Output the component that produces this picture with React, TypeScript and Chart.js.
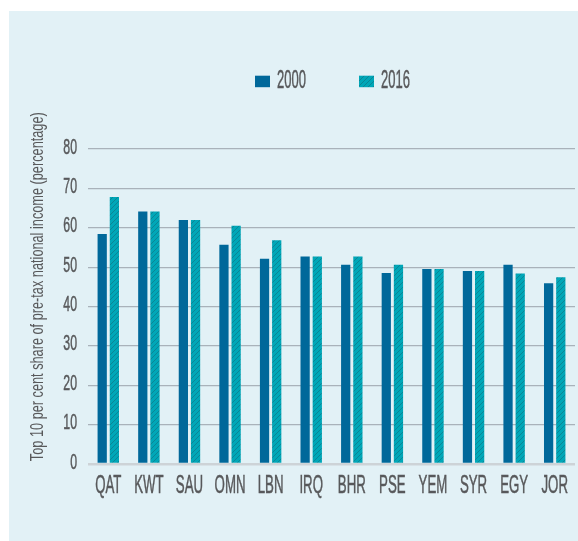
import React, { useEffect, useRef } from "react";
import { Chart, registerables } from "chart.js";

Chart.register(...registerables);

// ---- data ----
const categories = ["QAT", "KWT", "SAU", "OMN", "LBN", "IRQ", "BHR", "PSE", "YEM", "SYR", "EGY", "JOR"];
const seriesLabels = ["2000", "2016"];
const values2000 = [58.4, 64.1, 62.0, 55.7, 52.1, 52.7, 50.6, 48.5, 49.5, 49.0, 50.6, 45.9];
const values2016 = [67.8, 64.1, 62.0, 60.5, 56.8, 52.7, 52.7, 50.6, 49.5, 49.0, 48.4, 47.4];
const yMin = 0;
const yMax = 80;
const yStep = 10;
const yTitle = "Top 10 per cent share of pre-tax national income (percentage)";

// ---- styles ----
const COLOR_2000 = "#00689a";
const COLOR_2016 = "#00a7b8";
const HATCH_LINE = "#0b8595";
const TEXT_COLOR = "#58595b";
const FONT = "'Liberation Sans', Arial, sans-serif";

function makeHatch(ctx: CanvasRenderingContext2D) {
  const c = document.createElement("canvas");
  c.width = 5;
  c.height = 5;
  const g = c.getContext("2d")!;
  g.fillStyle = COLOR_2016;
  g.fillRect(0, 0, 5, 5);
  g.strokeStyle = HATCH_LINE;
  g.lineWidth = 1;
  g.beginPath();
  g.moveTo(0, 5);
  g.lineTo(5, 0);
  g.moveTo(-1, 1);
  g.lineTo(1, -1);
  g.moveTo(4, 6);
  g.lineTo(6, 4);
  g.stroke();
  return ctx.createPattern(c, "repeat")!;
}

function drawText(
  ctx: CanvasRenderingContext2D,
  text: string,
  x: number,
  y: number,
  size: number,
  sx: number,
  align: CanvasTextAlign,
  baseline: CanvasTextBaseline,
  stroke = 0.5
) {
  ctx.save();
  ctx.font = `${size}px ${FONT}`;
  ctx.textAlign = align;
  ctx.textBaseline = baseline;
  ctx.translate(x, y);
  ctx.scale(sx, 1);
  ctx.fillText(text, 0, 0);
  if (stroke > 0) {
    ctx.strokeStyle = ctx.fillStyle;
    ctx.lineWidth = stroke;
    ctx.strokeText(text, 0, 0);
  }
  ctx.restore();
}

const textPlugin = {
  id: "condensedText",
  afterDraw(chart: any) {
    const { ctx, chartArea, scales } = chart;
    const xs = scales.x;
    const ys = scales.y;
    ctx.save();
    ctx.fillStyle = TEXT_COLOR;
    // y tick labels
    ys.ticks.forEach((t: any) => {
      drawText(ctx, String(t.value), chartArea.left - 11, ys.getPixelForValue(t.value) - 1.5, 22, 0.56, "right", "middle");
    });
    // x tick labels
    categories.forEach((c, i) => {
      drawText(ctx, c, xs.getPixelForValue(i), chartArea.bottom + 29, 25, 0.53, "center", "alphabetic");
    });
    // y title
    ctx.save();
    ctx.translate(chartArea.left - 45, (chartArea.top + chartArea.bottom) / 2 - 19.8);
    ctx.rotate(-Math.PI / 2);
    drawText(ctx, yTitle, 0, 0, 19, 0.67, "center", "alphabetic", 0);
    ctx.restore();
    // legend
    const boxX = [246, 350];
    chart.data.datasets.forEach((ds: any, i: number) => {
      ctx.fillStyle = ds.backgroundColor;
      ctx.fillRect(boxX[i], 64.7, 15, 11.5);
      ctx.fillStyle = TEXT_COLOR;
      drawText(ctx, ds.label, boxX[i] + 22, 77.3, 26, 0.5, "left", "alphabetic");
    });
    ctx.restore();
  },
};

export default function App() {
  const ref = useRef<HTMLCanvasElement>(null);
  useEffect(() => {
    document.body.style.margin = "0";
    const canvas = ref.current!;
    const ctx = canvas.getContext("2d")!;
    const hatch = makeHatch(ctx);
    const chart = new Chart(canvas, {
      type: "bar",
      data: {
        labels: categories,
        datasets: [
          { label: seriesLabels[0], data: values2000, backgroundColor: COLOR_2000, borderWidth: 0 },
          { label: seriesLabels[1], data: values2016, backgroundColor: hatch as any, borderWidth: 0 },
        ],
      },
      options: {
        responsive: false,
        animation: false,
        devicePixelRatio: 1,
        layout: { padding: { left: 79, right: 3, top: 138, bottom: 77 } },
        datasets: { bar: { categoryPercentage: 0.6, barPercentage: 0.76 } },
        plugins: {
          legend: { display: false },
          title: { display: false },
          tooltip: { enabled: false },
        },
        scales: {
          x: {
            grid: { display: false, drawTicks: false },
            border: { display: false },
            ticks: { display: false },
          },
          y: {
            min: yMin,
            max: yMax,
            ticks: { display: false, stepSize: yStep },
            border: { display: false },
            grid: {
              drawTicks: false,
              color: (c: any) => (c.tick && c.tick.value === 0 ? "#cdd3d7" : "#a9b2ba"),
              lineWidth: (c: any) => (c.tick && c.tick.value === 0 ? 2.5 : 1.2),
            },
          },
        },
      },
      plugins: [textPlugin],
    });
    return () => chart.destroy();
  }, []);
  return (
    <div style={{ position: "relative", width: 578, height: 541, background: "#ffffff" }}>
      <div style={{ position: "absolute", left: 9, top: 11, width: 569, height: 530, background: "#e2f1f6" }}>
        <canvas ref={ref} width={569} height={530} style={{ display: "block" }} />
      </div>
    </div>
  );
}
